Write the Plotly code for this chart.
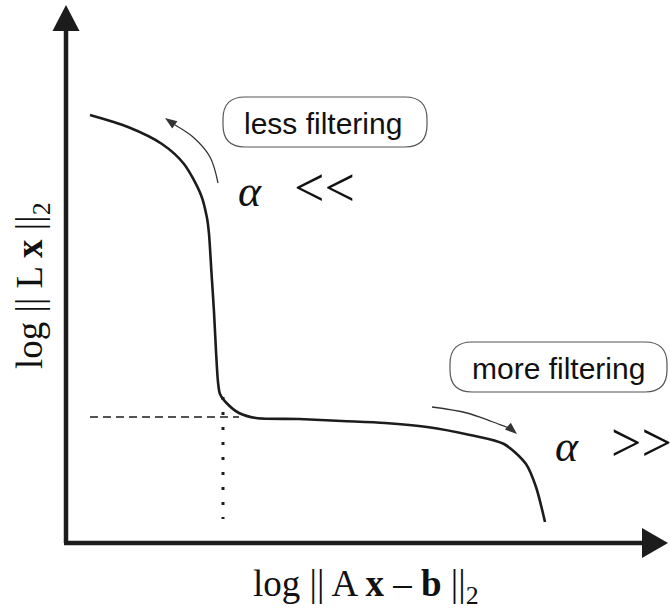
import plotly.graph_objects as go

# L-curve: log residual norm (x) vs log solution seminorm (y), arbitrary units
residual_log = [0.24, 0.62, 0.96, 1.18, 1.35, 1.41, 1.43, 1.455, 1.48, 1.50, 1.52, 1.54,
                1.605, 1.73, 1.90, 2.33, 2.76, 3.19, 3.61, 4.04, 4.38, 4.60, 4.70, 4.79]
seminorm_log = [4.28, 4.16, 3.99, 3.79, 3.48, 3.25, 3.09, 2.70, 2.31, 1.92, 1.61, 1.49,
                1.40, 1.30, 1.25, 1.24, 1.22, 1.20, 1.16, 1.08, 0.99, 0.79, 0.56, 0.21]

# corner of the L-curve (optimal regularization)
corner_x = 1.57
corner_y = 1.26

X_RANGE = [-0.66, 6.04]
Y_RANGE = [-0.67, 5.43]

INK = "#1c1c1c"


def rounded_box(x0, x1, y0, y1, r):
    return (f"M {x0 + r},{y0} L {x1 - r},{y0} Q {x1},{y0} {x1},{y0 + r} "
            f"L {x1},{y1 - r} Q {x1},{y1} {x1 - r},{y1} L {x0 + r},{y1} "
            f"Q {x0},{y1} {x0},{y1 - r} L {x0},{y0 + r} Q {x0},{y0} {x0 + r},{y0} Z")


def arrow_head(tip, back, length=0.12, half=0.045):
    dx, dy = tip[0] - back[0], tip[1] - back[1]
    n = (dx * dx + dy * dy) ** 0.5
    ux, uy = dx / n, dy / n
    bx, by = tip[0] - ux * length, tip[1] - uy * length
    px, py = -uy * half, ux * half
    return (f"M {tip[0]},{tip[1]} L {bx + px},{by + py} L {bx - px},{by - py} Z",
            (bx, by))


fig = go.Figure()

# main curve
fig.add_trace(go.Scatter(
    x=residual_log, y=seminorm_log, mode="lines",
    line=dict(color=INK, width=2.6, shape="spline", smoothing=0.8),
    hoverinfo="skip", showlegend=False))

# guide lines through the corner
fig.add_trace(go.Scatter(
    x=[residual_log[0], 1.73], y=[corner_y, corner_y], mode="lines",
    line=dict(color=INK, width=1.3, dash="8px,5px"),
    hoverinfo="skip", showlegend=False))
fig.add_trace(go.Scatter(
    x=[corner_x, corner_x], y=[1.46, 0.24], mode="lines",
    line=dict(color=INK, width=3, dash="3px,12px"),
    hoverinfo="skip", showlegend=False))

shapes = []

# axes with arrowheads
shapes.append(dict(type="line", x0=0, y0=0, x1=0, y1=5.15,
                   line=dict(color=INK, width=4.5)))
shapes.append(dict(type="line", x0=-0.02, y0=0, x1=5.8, y1=0,
                   line=dict(color=INK, width=4.5)))
shapes.append(dict(type="path", path="M 0,5.38 L -0.135,5.12 L 0.135,5.12 Z",
                   fillcolor=INK, line=dict(color=INK, width=0)))
shapes.append(dict(type="path", path="M 6.02,0 L 5.76,0.15 L 5.76,-0.15 Z",
                   fillcolor=INK, line=dict(color=INK, width=0)))

# label boxes
shapes.append(dict(type="path", path=rounded_box(1.57, 3.61, 3.96, 4.46, 0.22),
                   line=dict(color="#555555", width=1.2)))
shapes.append(dict(type="path", path=rounded_box(3.84, 6.01, 1.51, 2.01, 0.22),
                   line=dict(color="#555555", width=1.2)))

# curved direction arrows
less_pts = [(1.52, 3.60), (1.44, 3.86), (1.27, 4.06), (1.09, 4.18), (0.99, 4.25)]
more_pts = [(3.66, 1.36), (4.01, 1.30), (4.27, 1.21), (4.44, 1.15), (4.51, 1.09)]
for pts in (less_pts, more_pts):
    head, base = arrow_head(pts[-1], pts[-2])
    shaft = pts[:-1] + [base]
    fig.add_trace(go.Scatter(
        x=[p[0] for p in shaft], y=[p[1] for p in shaft], mode="lines",
        line=dict(color="#333333", width=1.3, shape="spline"),
        hoverinfo="skip", showlegend=False))
    shapes.append(dict(type="path", path=head, fillcolor="#333333",
                       line=dict(color="#333333", width=0)))

narrow = "Liberation Sans Narrow, Arial Narrow, Liberation Sans, sans-serif"
serif = "Liberation Serif, Times New Roman, serif"
rel = "<span style='font-size:54px'>{}</span>"

annotations = [
    dict(x=2.57, y=4.20, text="less filtering", showarrow=False,
         font=dict(family=narrow, size=30, color="#111111")),
    dict(x=4.925, y=1.75, text="more filtering", showarrow=False,
         font=dict(family=narrow, size=30, color="#111111")),
    dict(x=1.70, y=3.55, text="<i>α</i>   " + rel.format("&lt;&lt;"),
         showarrow=False, xanchor="left",
         font=dict(family=serif, size=44, color="#111111")),
    dict(x=4.87, y=1.00, text="<i>α</i>   " + rel.format("&gt;&gt;"),
         showarrow=False, xanchor="left",
         font=dict(family=serif, size=44, color="#111111")),
    dict(x=3.00, y=-0.43, text="log || A <b>x</b> – <b>b</b> ||<sub>2</sub>",
         showarrow=False, font=dict(family=serif, size=37, color="#111111")),
    dict(x=-0.34, y=2.57, text="log || L <b>x</b> ||<sub>2</sub>", textangle=-90,
         showarrow=False, font=dict(family=serif, size=37, color="#111111")),
]

fig.update_layout(
    width=670, height=610,
    margin=dict(l=0, r=0, t=0, b=0),
    paper_bgcolor="white", plot_bgcolor="white",
    xaxis=dict(range=X_RANGE, visible=False, fixedrange=True),
    yaxis=dict(range=Y_RANGE, visible=False, fixedrange=True),
    shapes=shapes, annotations=annotations, showlegend=False,
)

fig.write_html("out.html")
